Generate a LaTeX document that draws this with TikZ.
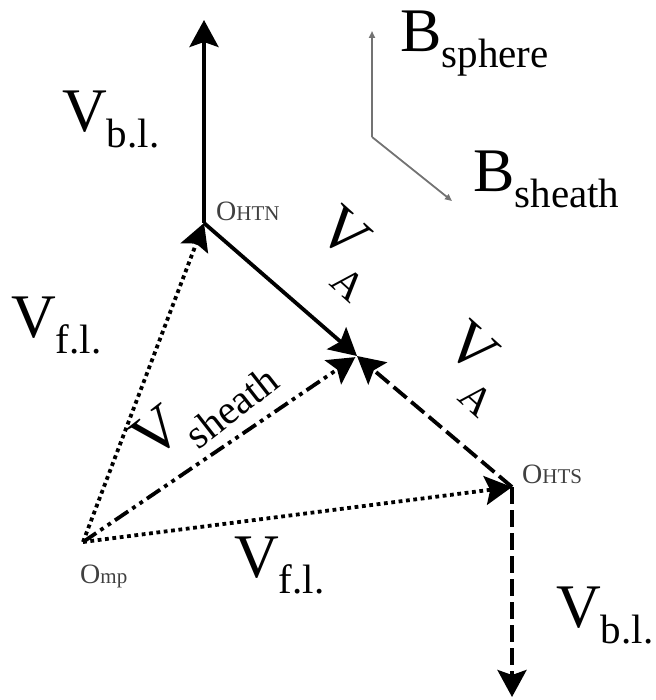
\documentclass[tikz,border=0pt]{standalone}
\usepackage{fontspec}
\setmainfont{Liberation Serif}
\usetikzlibrary{arrows.meta}
\newcommand{\bigsz}{\fontsize{62}{62}\selectfont}
\newcommand{\subsz}{\fontsize{41}{41}\selectfont}
\newcommand{\vlbl}[2]{{\bigsz #1}{\subsz\raisebox{-16pt}{#2}}}
\newcommand{\ptlbl}[2]{{\fontsize{28}{28}\selectfont #1}{\fontsize{21}{21}\selectfont #2}}

\begin{document}
\begin{tikzpicture}[x=1pt, y=-1pt,
  % ── vector styles ────────────────────────────────────────────────────────
  vec/.style={
    draw=black, line width=3.8pt,
    -{Stealth[length=27pt, width=29pt, inset=5pt]}
  },
  dotvec/.style={vec, dash pattern=on 3.8pt off 3.6pt},
  dashvec/.style={vec, dash pattern=on 17pt off 6pt},
  ddotvec/.style={vec, dash pattern=on 16pt off 5pt on 3.8pt off 5pt on 3.8pt off 5pt},
  % thin grey field directions
  bfield/.style={
    draw=black!55, line width=1.8pt,
    -{Triangle[length=7pt, width=6pt]}
  },
  % labels
  lbl/.style={anchor=base west, inner sep=0pt},
  ptlbl/.style={anchor=base west, inner sep=0pt, text=black!75},
  rotlbl/.style={inner sep=0pt},
]
\useasboundingbox (0,0) rectangle (655,700);

% ── Points ──────────────────────────────────────────────────────────────────
\coordinate (Omp)   at (83, 542);
\coordinate (Ohtn)  at (204, 223);
\coordinate (Ohts)  at (512, 487);
\coordinate (Cmeet) at (357, 356);
\coordinate (topTip) at (204, 20);
\coordinate (botTip) at (512, 697);
\coordinate (Bbend) at (372, 137);
\coordinate (Bup)   at (372, 31);
\coordinate (Bdn)   at (452, 201);

% ── Vectors ─────────────────────────────────────────────────────────────────
\draw[vec]     (Ohtn) -- (topTip);
\draw[vec]     (Ohtn) -- (Cmeet);
\draw[dashvec] (Ohts) -- (Cmeet);
\draw[dashvec] (Ohts) -- (botTip);
\draw[dotvec]  (Omp) -- (Ohtn);
\draw[dotvec]  (Omp) -- (Ohts);
\draw[ddotvec, shorten >=2pt] (Omp) -- (Cmeet);

% ── Field directions ────────────────────────────────────────────────────────
\draw[bfield] (Bbend) -- (Bup);
\draw[bfield] (Bbend) -- (Bdn);

% ── Labels ──────────────────────────────────────────────────────────────────
\node[lbl] (vbltop) at (62, 132)  {\vlbl{V}{b.l.}};
\node[lbl] (bsph)   at (400, 52)  {\vlbl{B}{sphere}};
\node[lbl] (bsh)    at (473, 192) {\vlbl{B}{sheath}};
\node[lbl] (vflleft) at (11, 337) {\vlbl{V}{f.l.}};
\node[lbl] (vflbot) at (234, 577) {\vlbl{V}{f.l.}};
\node[lbl] (vblbot) at (556, 627) {\vlbl{V}{b.l.}};

\node[rotlbl, rotate=-42] (va1) at (346, 253) {{\bigsz V}{\subsz\raisebox{-30pt}{A}}};
\node[rotlbl, rotate=-42] (va2) at (474, 368) {{\bigsz V}{\subsz\raisebox{-30pt}{A}}};
\node[rotlbl, rotate=38]  (vsh) at (204, 408) {{\bigsz V}{\subsz\raisebox{-20pt}{sheath}}};

\node[ptlbl] (lhtn) at (216, 221) {\ptlbl{O}{HTN}};
\node[ptlbl] (lhts) at (522, 483) {\ptlbl{O}{HTS}};
\node[ptlbl] (lmp)  at (80, 583)  {\ptlbl{O}{mp}};

\end{tikzpicture}
\end{document}
